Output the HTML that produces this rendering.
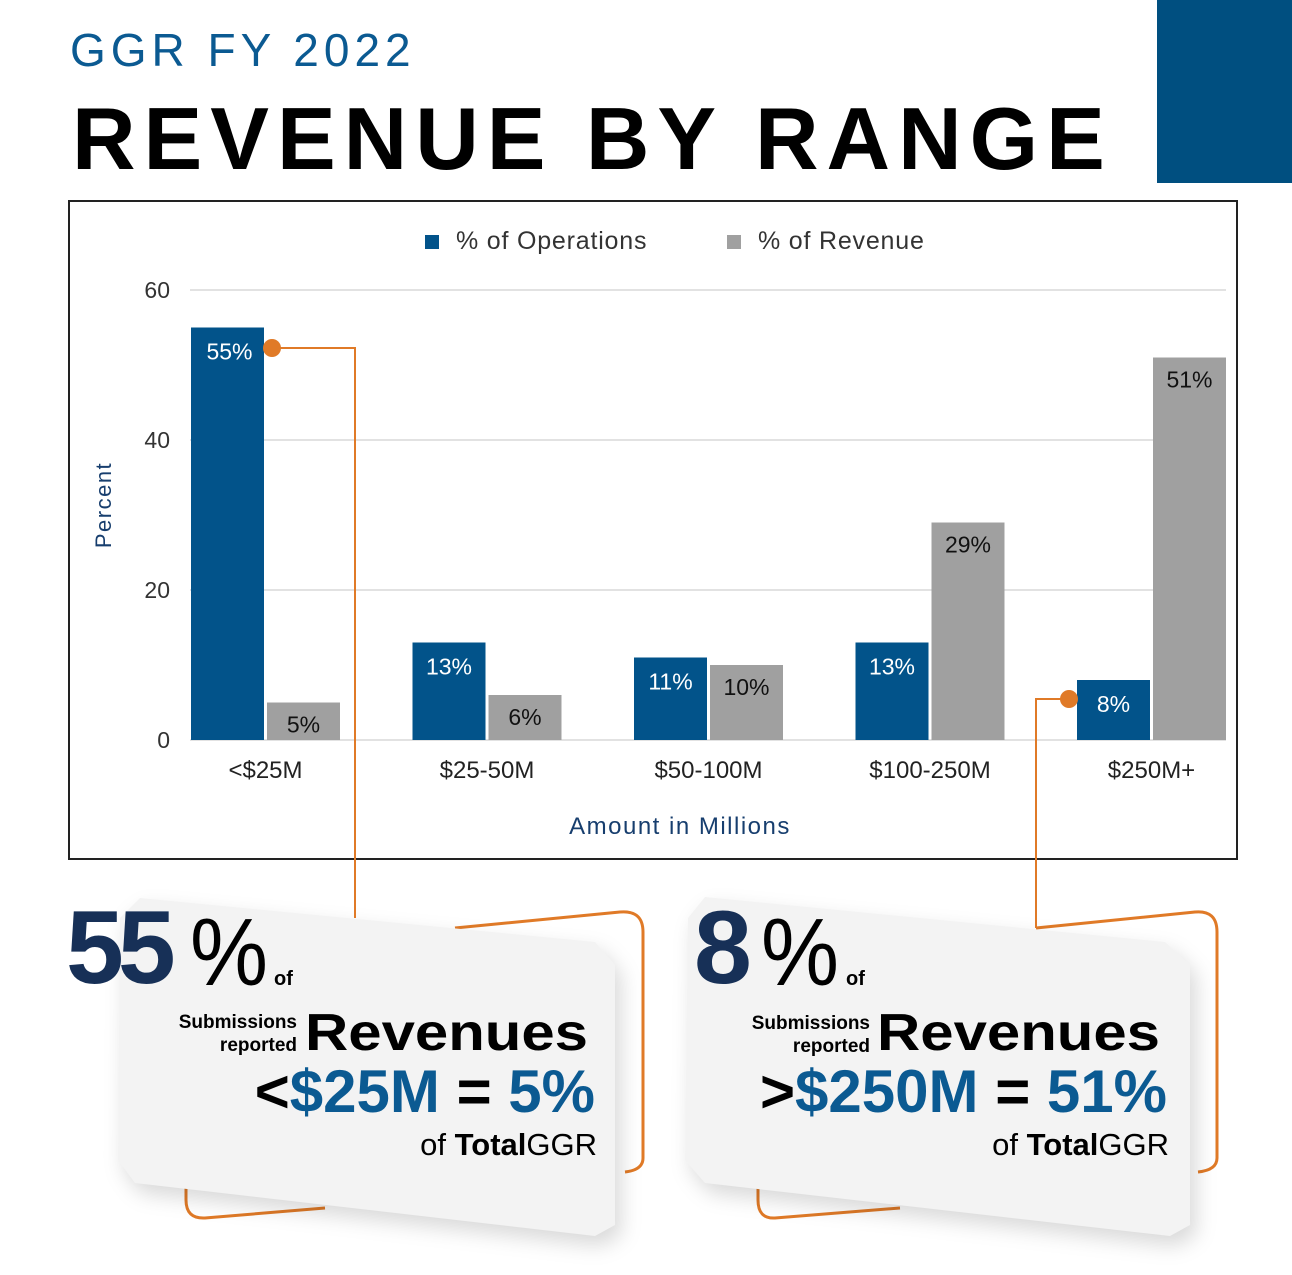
<!DOCTYPE html>
<html><head><meta charset="utf-8"><style>
body{margin:0;width:1292px;height:1275px;background:#fff;overflow:hidden;font-family:"Liberation Sans",sans-serif;position:relative}
.t{position:absolute;white-space:nowrap}
</style></head><body>
<div class="t" style="left:70px;top:23px;font-size:46px;color:#0b5a92;letter-spacing:5px">GGR FY 2022</div>
<div class="t" style="left:72px;top:88px;font-size:88px;font-weight:bold;color:#000;letter-spacing:8px">REVENUE BY RANGE</div>
<div style="position:absolute;left:1157px;top:0;width:135px;height:183px;background:#004f80"></div>
<svg width="1292" height="1275" style="position:absolute;left:0;top:0" id="svg">
<rect x="69" y="201" width="1168" height="658" fill="#fff" stroke="#222" stroke-width="2"/>
<g id="chart"></g>
<g>
<path d="M455 928 L620 912 Q643 910 643 932 L643 1158 Q643 1170 625 1172" fill="none" stroke="#e07a27" stroke-width="3"/>
<path d="M325 1208 L205 1218 Q186 1219 186 1200 L186 1185" fill="none" stroke="#e07a27" stroke-width="3"/>
<polygon points="140,898 595,942 615,965 615,1225 595,1236 135,1183 118,1160 120,918" fill="#f3f3f3" style="filter:drop-shadow(6px 10px 10px rgba(0,0,0,0.15))"/>
</g>
<g>
<path d="M1036 928 L1195 912 Q1217 910 1217 932 L1217 1158 Q1217 1170 1198 1172" fill="none" stroke="#e07a27" stroke-width="3"/>
<path d="M900 1208 L775 1218 Q758 1219 758 1200 L758 1185" fill="none" stroke="#e07a27" stroke-width="3"/>
<polygon points="705,897 1165,942 1190,965 1190,1225 1170,1236 705,1183 685,1160 688,918" fill="#f3f3f3" style="filter:drop-shadow(6px 10px 10px rgba(0,0,0,0.15))"/>
</g>
<g><polyline points="272,348 355,348 355,918" fill="none" stroke="#e07a27" stroke-width="2"/><circle cx="272" cy="348" r="9" fill="#e07a27"/></g>
<g><polyline points="1069,699 1036,699 1036,928" fill="none" stroke="#e07a27" stroke-width="2"/><circle cx="1069" cy="699" r="9" fill="#e07a27"/></g>
<g font-family="Liberation Sans,sans-serif">
<text x="66" y="983" font-size="104" font-weight="bold" fill="#173057" letter-spacing="-6">55</text>
<text x="190" y="985" font-size="96" fill="#000" textLength="78" lengthAdjust="spacingAndGlyphs">%</text>
<text x="274" y="985" font-size="20" font-weight="bold">of</text>
<text x="297" y="1028" font-size="19" font-weight="bold" text-anchor="end">Submissions</text>
<text x="297" y="1051" font-size="19" font-weight="bold" text-anchor="end">reported</text>
<text x="305" y="1050" font-size="52" font-weight="bold" textLength="283" lengthAdjust="spacingAndGlyphs">Revenues</text>
<text x="595" y="1112" font-size="60" font-weight="bold" text-anchor="end"><tspan fill="#000">&lt;</tspan><tspan fill="#0b5a92">$25M </tspan><tspan fill="#000">= </tspan><tspan fill="#0b5a92">5%</tspan></text>
<text x="597" y="1155" font-size="31" text-anchor="end">of <tspan font-weight="bold">Total</tspan>GGR</text>

<text x="694" y="983" font-size="104" font-weight="bold" fill="#173057">8</text>
<text x="761" y="985" font-size="96" fill="#000" textLength="78" lengthAdjust="spacingAndGlyphs">%</text>
<text x="846" y="985" font-size="20" font-weight="bold">of</text>
<text x="870" y="1029" font-size="19" font-weight="bold" text-anchor="end">Submissions</text>
<text x="870" y="1052" font-size="19" font-weight="bold" text-anchor="end">reported</text>
<text x="877" y="1050" font-size="52" font-weight="bold" textLength="283" lengthAdjust="spacingAndGlyphs">Revenues</text>
<text x="1167" y="1112" font-size="60" font-weight="bold" text-anchor="end"><tspan fill="#000">&gt;</tspan><tspan fill="#0b5a92">$250M </tspan><tspan fill="#000">= </tspan><tspan fill="#0b5a92">51%</tspan></text>
<text x="1169" y="1155" font-size="31" text-anchor="end">of <tspan font-weight="bold">Total</tspan>GGR</text>
</g>
</svg>
<script>
const categories=["<$25M","$25-50M","$50-100M","$100-250M","$250M+"];
const operations=[55,13,11,13,8];
const revenue=[5,6,10,29,51];
const yTicks=[0,20,40,60];
const NS="http://www.w3.org/2000/svg";
const g=document.getElementById('chart');
const y0=740,pxPer=7.5,x0=191,step=221.5,bw=73;
const ys=v=>y0-v*pxPer;
const xs=i=>x0+i*step;
function mk(tag,attrs,txt){const e=document.createElementNS(NS,tag);for(const k in attrs)e.setAttribute(k,attrs[k]);if(txt!==undefined)e.textContent=txt;g.appendChild(e);return e;}
yTicks.forEach(t=>{
  if(t>0){const l=mk('line',{x1:190,x2:1226,y1:ys(t),y2:ys(t),stroke:'#d9d9d9','stroke-width':1.5});
  
  }
  const tx=mk('text',{x:170,y:ys(t)+8,'text-anchor':'end','font-size':23,fill:'#333','font-family':'Liberation Sans,sans-serif'},t);
  
  
});
const ax=mk('line',{x1:190,x2:1226,y1:y0,y2:y0,stroke:'#d9d9d9','stroke-width':1.5});


categories.forEach((c,i)=>{
  const bx=xs(i);
  const b1=mk('rect',{x:bx,y:ys(operations[i]),width:bw,height:operations[i]*pxPer,fill:'#02538a'});
  
  
  const b2=mk('rect',{x:bx+bw+3,y:ys(revenue[i]),width:bw,height:revenue[i]*pxPer,fill:'#a0a0a0'});
  
  
  const l1=mk('text',{x:bx+bw/2+(i==0?2:0),y:ys(operations[i])+32,'text-anchor':'middle','font-size':23,fill:'#fff','font-family':'Liberation Sans,sans-serif'},operations[i]+'%');
  
  
  const l2=mk('text',{x:bx+bw*1.5+3,y:ys(revenue[i])+30,'text-anchor':'middle','font-size':23,fill:'#111','font-family':'Liberation Sans,sans-serif'},revenue[i]+'%');
  
  
  const xl=mk('text',{x:bx+bw+1.5,y:778,'text-anchor':'middle','font-size':24,fill:'#222','font-family':'Liberation Sans,sans-serif'},c);
  
  
});
const xt=mk('text',{x:680,y:834,'text-anchor':'middle','font-size':24,fill:'#173e6e','font-family':'Liberation Sans,sans-serif','letter-spacing':1.5},'Amount in Millions');


const yt=mk('text',{x:0,y:0,transform:'translate(111,505) rotate(-90)','text-anchor':'middle','font-size':22,fill:'#173e6e','font-family':'Liberation Sans,sans-serif','letter-spacing':1.5},'Percent');


const s1=mk('rect',{x:425,y:235,width:14,height:14,fill:'#02538a'});


const t1=mk('text',{x:456,y:249,'font-size':25,fill:'#333','font-family':'Liberation Sans,sans-serif','letter-spacing':0.8},'% of Operations');


const s2=mk('rect',{x:727,y:235,width:14,height:14,fill:'#a0a0a0'});


const t2=mk('text',{x:758,y:249,'font-size':25,fill:'#333','font-family':'Liberation Sans,sans-serif','letter-spacing':0.8},'% of Revenue');


</script>
</body></html>
